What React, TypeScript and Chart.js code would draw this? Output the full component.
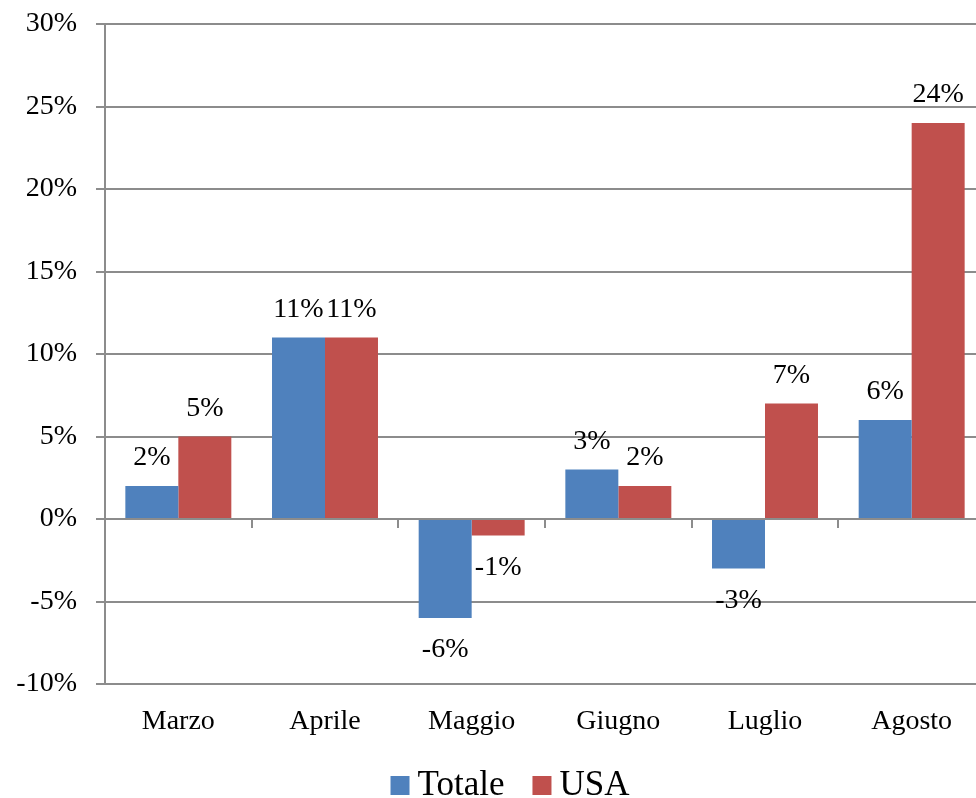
import React, { useEffect, useRef } from "react";
import { Chart, registerables } from "chart.js";

Chart.register(...registerables);

const categories = ["Marzo", "Aprile", "Maggio", "Giugno", "Luglio", "Agosto"];
const totaleValues = [2, 11, -6, 3, -3, 6];
const usaValues = [5, 11, -1, 2, 7, 24];
const seriesNames = ["Totale", "USA"];
const yMin = -10;
const yMax = 30;
const yStep = 5;

const FONT = "'Liberation Serif', 'Times New Roman', serif";
const BLUE = "#4F81BD";
const RED = "#C0504D";
const GRID = "#8C8C8C";

const valueLabels = {
  id: "valueLabels",
  afterDatasetsDraw(chart: any) {
    const ctx = chart.ctx;
    ctx.save();
    ctx.font = `28px ${FONT}`;
    ctx.fillStyle = "#000";
    ctx.textAlign = "center";
    ctx.textBaseline = "middle";
    chart.data.datasets.forEach((ds: any, di: number) => {
      const meta = chart.getDatasetMeta(di);
      meta.data.forEach((bar: any, i: number) => {
        const v = ds.data[i];
        const p = bar.getProps(["x", "y", "base"], true);
        const y = v >= 0 ? p.y - 28 : p.y + 32;
        ctx.fillText(`${v}%`, p.x, y);
      });
    });
    ctx.restore();
  },
};

const zeroTicks = {
  id: "zeroTicks",
  afterDatasetsDraw(chart: any) {
    const ctx = chart.ctx;
    const xs = chart.scales.x;
    const ys = chart.scales.y;
    const y0 = ys.getPixelForValue(0);
    const n = categories.length;
    const w = (xs.right - xs.left) / n;
    ctx.save();
    ctx.strokeStyle = GRID;
    ctx.lineWidth = 2;
    for (let i = 1; i <= n; i++) {
      const x = Math.round(xs.left + i * w);
      ctx.beginPath();
      ctx.moveTo(x, y0);
      ctx.lineTo(x, y0 + 9);
      ctx.stroke();
    }
    ctx.restore();
  },
};

const customLegend = {
  id: "customLegend",
  afterDraw(chart: any) {
    const ctx = chart.ctx;
    const box = 19;
    const gapText = 8;
    const gapItem = 28;
    ctx.save();
    ctx.font = `35px ${FONT}`;
    ctx.textBaseline = "alphabetic";
    ctx.textAlign = "left";
    const items = chart.data.datasets.map((ds: any) => ({
      label: ds.label,
      color: ds.backgroundColor,
      w: ctx.measureText(ds.label).width,
    }));
    const total = items.reduce((s: number, it: any, i: number) => s + box + gapText + it.w + (i > 0 ? gapItem : 0), 0);
    let x = chart.width / 2 - total / 2;
    const baseline = chart.chartArea.bottom + 111;
    items.forEach((it: any, i: number) => {
      if (i > 0) x += gapItem;
      ctx.fillStyle = it.color;
      ctx.fillRect(x, baseline - box, box, box);
      x += box + gapText;
      ctx.fillStyle = "#000";
      ctx.fillText(it.label, x, baseline);
      x += it.w;
    });
    ctx.restore();
  },
};

export default function App() {
  const ref = useRef<HTMLCanvasElement>(null);
  useEffect(() => {
    document.body.style.margin = "0";
    document.body.style.overflow = "hidden";
    const chart = new Chart(ref.current as HTMLCanvasElement, {
      type: "bar",
      data: {
        labels: categories,
        datasets: [
          { label: seriesNames[0], data: totaleValues, backgroundColor: BLUE, yAxisID: "y" },
          { label: seriesNames[1], data: usaValues, backgroundColor: RED, yAxisID: "y" },
        ],
      },
      options: {
        responsive: false,
        animation: false,
        datasets: { bar: { categoryPercentage: 0.7226, barPercentage: 1.0 } },
        layout: { padding: { top: 24, bottom: 39, left: 0, right: 0 } },
        plugins: {
          title: { display: false },
          tooltip: { enabled: false },
          legend: { display: false },
        },
        scales: {
          x: {
            afterFit: (s: any) => { s.height = 75; s.paddingLeft = 0; s.paddingRight = 0; },
            grid: { display: false },
            border: { display: false },
            ticks: { color: "#000", font: { family: FONT, size: 28 }, padding: 13, maxRotation: 0 },
          },
          y: {
            min: yMin,
            max: yMax,
            afterFit: (s: any) => { s.width = 105; s.paddingTop = 0; s.paddingBottom = 0; },
            ticks: {
              stepSize: yStep,
              color: "#000",
              padding: 19,
              font: { family: FONT, size: 28 },
              callback: (v: any) => `${v}%`,
            },
            grid: { color: GRID, lineWidth: 2, tickLength: 9, tickColor: GRID },
            border: { display: true, color: GRID, width: 2 },
          },
          yR: {
            position: "right",
            display: true,
            min: yMin,
            max: yMax,
            afterFit: (s: any) => { s.width = 35; s.paddingTop = 0; s.paddingBottom = 0; },
            ticks: { display: false },
            grid: { display: false, drawTicks: false },
            border: { display: false },
          },
        },
      },
      plugins: [valueLabels, zeroTicks, customLegend],
    } as any);
    return () => chart.destroy();
  }, []);
  return (
    <div style={{ width: 976, height: 798, overflow: "hidden", position: "relative", background: "#fff" }}>
      <canvas ref={ref} width={1020} height={798} style={{ width: 1020, height: 798, display: "block" }} />
    </div>
  );
}
